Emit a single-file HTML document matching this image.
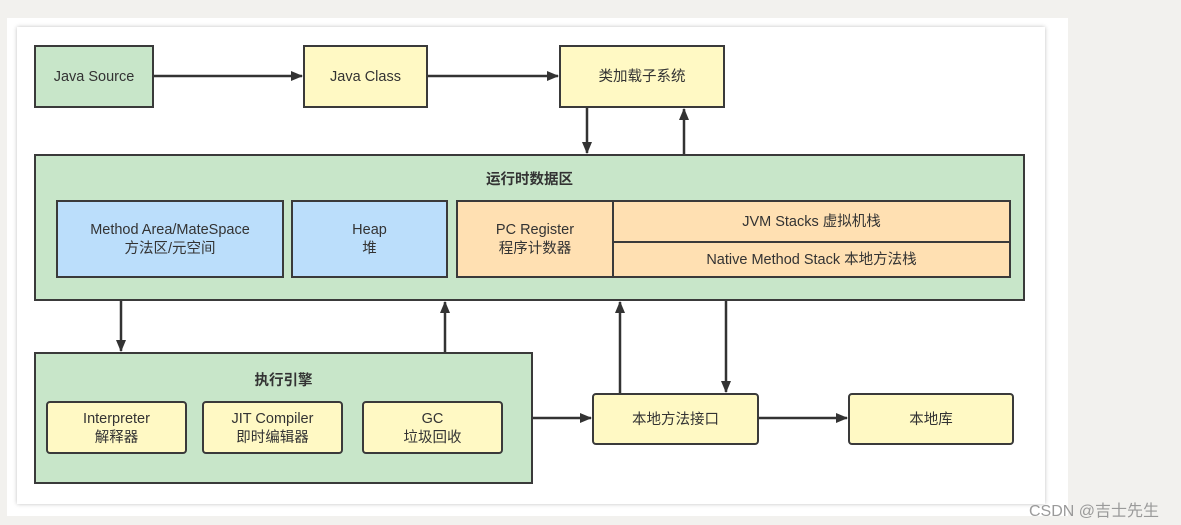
<!DOCTYPE html>
<html><head><meta charset="utf-8"><style>
body{margin:0;width:1181px;height:525px;background:#f2f1ee;position:relative;overflow:hidden;font-family:"Liberation Sans","Noto Sans CJK SC",sans-serif;color:#333;}
.abs{position:absolute;box-sizing:border-box;}
.b{position:absolute;box-sizing:border-box;border:2px solid #3a3a3a;display:flex;align-items:center;justify-content:center;text-align:center;font-size:14.5px;line-height:19px;padding-top:2px;}
.g{background:#c8e6c9}.y{background:#fff9c4}.bl{background:#bbdefb}.o{background:#ffe0b2}
.r{border-radius:4px}
.t{position:absolute;font-size:14.5px;font-weight:bold;text-align:center;}
</style></head><body>
<div class="abs" style="left:7px;top:18px;width:1061px;height:498px;background:#fff"></div>
<div class="abs" style="left:17px;top:27px;width:1028px;height:477px;background:#fff;box-shadow:0 0 4px rgba(0,0,0,0.25)"></div>

<div class="b g" style="left:34px;top:45px;width:120px;height:63px">Java Source</div>
<div class="b y" style="left:303px;top:45px;width:125px;height:63px">Java Class</div>
<div class="b y" style="left:559px;top:45px;width:166px;height:63px">类加载子系统</div>

<div class="b g" style="left:34px;top:154px;width:991px;height:147px"></div>
<div class="t" style="left:34px;top:168px;width:991px">运行时数据区</div>
<div class="b bl" style="left:56px;top:200px;width:228px;height:78px">Method Area/MateSpace<br>方法区/元空间</div>
<div class="b bl" style="left:291px;top:200px;width:157px;height:78px">Heap<br>堆</div>
<div class="b o" style="left:456px;top:200px;width:158px;height:78px">PC Register<br>程序计数器</div>
<div class="b o" style="left:612px;top:200px;width:399px;height:43px">JVM Stacks 虚拟机栈</div>
<div class="b o" style="left:612px;top:241px;width:399px;height:37px">Native Method Stack 本地方法栈</div>

<div class="b g" style="left:34px;top:352px;width:499px;height:132px"></div>
<div class="t" style="left:34px;top:369px;width:499px">执行引擎</div>
<div class="b y r" style="left:46px;top:401px;width:141px;height:53px">Interpreter<br>解释器</div>
<div class="b y r" style="left:202px;top:401px;width:141px;height:53px">JIT Compiler<br>即时编辑器</div>
<div class="b y r" style="left:362px;top:401px;width:141px;height:53px">GC<br>垃圾回收</div>

<div class="b y r" style="left:592px;top:393px;width:167px;height:52px">本地方法接口</div>
<div class="b y r" style="left:848px;top:393px;width:166px;height:52px">本地库</div>

<svg class="abs" style="left:0;top:0" width="1181" height="525">
<defs><marker id="a" markerWidth="12" markerHeight="10" refX="11" refY="5" orient="auto" markerUnits="userSpaceOnUse"><path d="M0,0 L12,5 L0,10z" fill="#333"/></marker></defs>
<g stroke="#333" stroke-width="2.5" fill="none" marker-end="url(#a)">
<line x1="154" y1="76" x2="302" y2="76"/>
<line x1="428" y1="76" x2="558" y2="76"/>
<line x1="587" y1="108" x2="587" y2="153"/>
<line x1="684" y1="154" x2="684" y2="109"/>
<line x1="121" y1="301" x2="121" y2="351"/>
<line x1="445" y1="352" x2="445" y2="302"/>
<line x1="533" y1="418" x2="591" y2="418"/>
<line x1="620" y1="393" x2="620" y2="302"/>
<line x1="726" y1="301" x2="726" y2="392"/>
<line x1="759" y1="418" x2="847" y2="418"/>
</g></svg>
<div class="abs" style="left:1029px;top:497px;font-size:16px;color:#9a9a9a">CSDN @吉士先生</div>
</body></html>
